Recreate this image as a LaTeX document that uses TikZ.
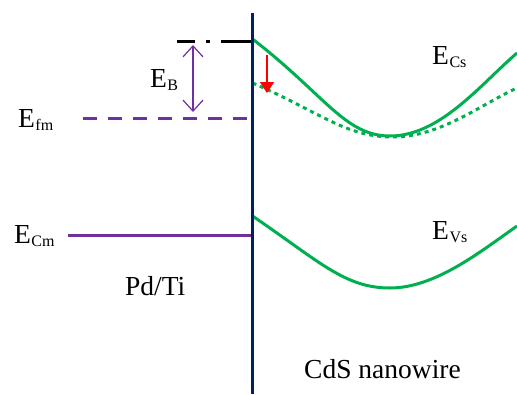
\documentclass[tikz,border=0pt]{standalone}
\usepackage{fontspec}
\setmainfont{Liberation Serif}
\usetikzlibrary{arrows.meta}

\definecolor{bandgreen}{RGB}{0,176,80}
\definecolor{metalpurple}{RGB}{112,48,160}
\definecolor{wallblue}{RGB}{0,32,96}

\newcommand{\lvl}[2]{E\kern0.5pt\raisebox{-0.12em}{\fontsize{16}{16}\selectfont #2}}

\tikzset{
  lbl/.style={anchor=base west, inner sep=0pt, font=\fontsize{27.5}{30}\selectfont},
  band/.style={bandgreen, line width=3pt},
  metal/.style={metalpurple, line width=3pt}
}

\begin{document}
\begin{tikzpicture}[x=1pt, y=-1pt, >=stealth]
  \useasboundingbox (0,0) rectangle (517,394);
  % Interface between metal and nanowire
  \coordinate (wtop) at (252.5,13);
  \coordinate (wbot) at (252.5,394);
  % Conduction band of the nanowire, before and after the shift
  \draw[band] (252.5,39) .. controls (325,95) and (345,136) .. (390,136)
    .. controls (440,136) and (480,85) .. (517,53);
  \draw[band, dash pattern=on 4pt off 4pt] (252.5,83) .. controls (320,112) and (345,137) .. (393,137)
    .. controls (440,137) and (480,105) .. (517,88);
  % Valence band
  \draw[band] (252.5,216) .. controls (320,262) and (345,288) .. (390,288)
    .. controls (435,288) and (480,252) .. (517,226);
  % Barrier top, Fermi level and metal band edge
  \coordinate (btop) at (177,41);
  \coordinate (fm) at (83,118);
  \coordinate (cm) at (68,235);
  \draw[black, line width=3pt, dash pattern=on 18pt off 11pt on 4pt off 11pt on 30pt]
    (btop) -- (btop -| wtop);
  \draw[metal, dash pattern=on 14pt off 11pt] (fm) -- (fm -| wtop);
  \draw[metal] (cm) -- (cm -| wtop);
  \draw[wallblue, line width=3.5pt] (wtop) -- (wbot);
  % Barrier height
  \coordinate (ebt) at (193,45);
  \coordinate (ebb) at (193,112);
  \draw[metalpurple, line width=1.2pt, {Straight Barb[length=11pt,width=20pt]}-{Straight Barb[length=11pt,width=20pt]}]
    (ebt) -- (ebb);
  % Downward shift of the band edge
  \coordinate (st) at (267,55);
  \coordinate (sb) at (267,93);
  \draw[red, line width=1.5pt, -{Triangle[length=11pt,width=14pt]}] (st) -- (sb);
  % Labels
  \node[lbl] (eb) at (150,87) {\lvl{E}{B}};
  \node[lbl] (efm) at (18,127) {\lvl{E}{fm}};
  \node[lbl] (ecm) at (14,243) {\lvl{E}{Cm}};
  \node[lbl] (ecs) at (432,64) {\lvl{E}{Cs}};
  \node[lbl] (evs) at (432,239) {\lvl{E}{Vs}};
  \node[lbl] (pdti) at (125,295) {Pd/Ti};
  \node[lbl] (cds) at (304,378) {CdS nanowire};
\end{tikzpicture}
\end{document}
